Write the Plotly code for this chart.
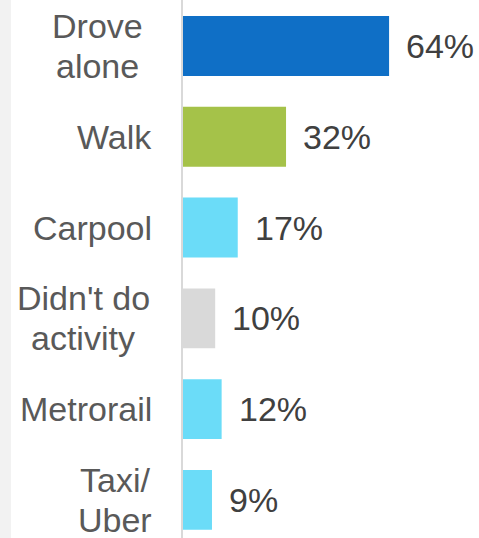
import plotly.graph_objects as go

# Commute mode share
modes = ["Drove<br>alone", "Walk", "Carpool", "Didn't do<br>activity", "Metrorail", "Taxi/<br>Uber"]
shares = [64, 32, 17, 10, 12, 9]
bar_colors = ["#0f6fc6", "#a5c249", "#6bdcf8", "#d9d9d9", "#6bdcf8", "#6bdcf8"]

label_color = "#595959"
value_color = "#404040"
font_family = "Liberation Sans, Arial, sans-serif"
font_size = 34
line_gap = 40  # px between wrapped label lines

W, H = 479, 538
left_margin = 183

# horizontal centre (px from the left page edge) of wrapped labels - style only
wrapped_center = {"Drove<br>alone": 97, "Didn't do<br>activity": 83, "Taxi/<br>Uber": 115}

positions = list(range(len(modes)))

fig = go.Figure()
fig.add_trace(
    go.Bar(
        x=shares,
        y=positions,
        orientation="h",
        marker=dict(color=bar_colors, line=dict(width=0)),
        width=0.66,
        hoverinfo="skip",
        showlegend=False,
    )
)

label_font = dict(family=font_family, size=font_size, color=label_color)
annotations = []
for i, (mode, share) in enumerate(zip(modes, shares)):
    lines = mode.split("<br>")
    if len(lines) == 1:
        annotations.append(dict(
            x=0, xref="paper", y=i, yref="y",
            text=mode, showarrow=False,
            xanchor="right", yanchor="middle",
            xshift=-29, font=label_font,
        ))
    else:
        for k, line in enumerate(lines):
            annotations.append(dict(
                x=0, xref="paper", y=i, yref="y",
                text=line, showarrow=False,
                xanchor="center", yanchor="middle",
                xshift=wrapped_center[mode] - left_margin,
                yshift=((len(lines) - 1) / 2 - k) * line_gap,
                font=label_font,
            ))
    # value label past the bar end
    annotations.append(dict(
        x=share, xref="x", y=i, yref="y",
        text=str(share) + "%", showarrow=False,
        xanchor="left", yanchor="middle",
        xshift=15,
        font=dict(family=font_family, size=font_size, color=value_color),
    ))

plot_w = W - left_margin
fig.update_layout(
    width=W,
    height=H,
    margin=dict(l=left_margin, r=0, t=0, b=0, pad=0),
    paper_bgcolor="white",
    plot_bgcolor="white",
    font=dict(family=font_family, size=font_size, color=label_color),
    xaxis=dict(
        range=[0, plot_w / 3.22],
        showgrid=False,
        zeroline=False,
        showticklabels=False,
        showline=False,
        fixedrange=True,
    ),
    yaxis=dict(
        range=[5.42, -0.507],
        showgrid=False,
        zeroline=False,
        showticklabels=False,
        showline=True,
        linecolor="#d9d9d9",
        linewidth=2,
        fixedrange=True,
    ),
    annotations=annotations,
    shapes=[
        # thin grey strip on the far left edge
        dict(
            type="rect", xref="paper", yref="paper",
            x0=-left_margin / plot_w, x1=(-left_margin + 11) / plot_w,
            y0=0, y1=1,
            fillcolor="#f2f2f2", line=dict(width=0), layer="below",
        )
    ],
)

fig.write_html(
    "out.html",
    config={"displayModeBar": False},
    post_script="document.body.style.margin='0';document.body.style.overflow='hidden';",
)
